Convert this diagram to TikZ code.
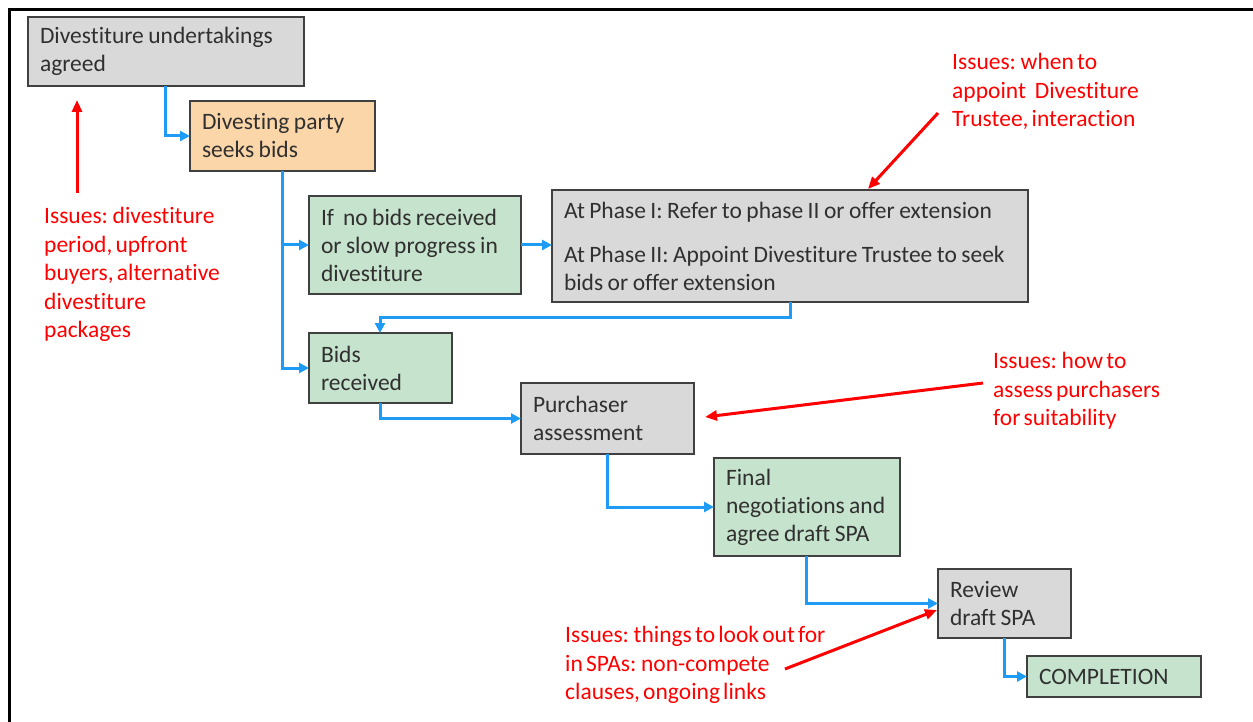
\documentclass[tikz,border=0pt]{standalone}
\usepackage{fontspec}
\setmainfont{Carlito}[Ligatures=NoCommon]
\usetikzlibrary{arrows.meta,calc}
\definecolor{boxgrey}{HTML}{D9D9D9}
\definecolor{boxpeach}{HTML}{FBD6A8}
\definecolor{boxgreen}{HTML}{C6E3CD}
\definecolor{flowblue}{HTML}{1E9BF5}
\definecolor{txt}{HTML}{303030}
\definecolor{edgegrey}{HTML}{404040}
\definecolor{issuered}{HTML}{FF0000}
\newcommand{\tightspace}{\spaceskip=0.135em plus 0.03em\xspaceskip=0.2em\relax}
\newcommand{\boxline}[1]{\mbox{\spaceskip=0.19em\xspaceskip=0.25em\relax #1}}
\tikzset{
  stage/.style={draw=edgegrey, line width=1.5pt, text=txt, anchor=north west, align=left,
    inner xsep=12pt, inner ysep=0pt, outer sep=0pt, font=\fontsize{23.5}{28}\selectfont},
  flow/.style={draw=flowblue, line width=3pt, -{Triangle[length=10pt,width=10pt]}},
  issue/.style={draw=issuered, line width=3pt, -{Triangle[length=12pt,width=10pt]}},
  note/.style={text=issuered, anchor=north west, align=left, inner sep=0pt,
    font=\fontsize{23.5}{28.5}\selectfont\tightspace},
}
\begin{document}
\begin{tikzpicture}[x=1pt,y=-1pt]
\useasboundingbox (0,0) rectangle (1253,722);
\draw[line width=3pt, black] (9,722) -- (9,10) -- (1253,10);

% boxes
\node[stage, fill=boxgrey, minimum width=276pt, minimum height=69pt, text width=252pt] (b1) at (28,17) {\boxline{Divestiture undertakings}\\\boxline{agreed}};
\node[stage, fill=boxpeach, minimum width=185pt, minimum height=70pt, text width=161pt] (b2) at (190,101) {\boxline{Divesting party}\\\boxline{seeks bids}};
\node[stage, fill=boxgreen, minimum width=212pt, minimum height=98pt, text width=188pt] (b3) at (309,196) {\boxline{If\ \ no bids received}\\\boxline{or slow progress in}\\\boxline{divestiture}};
\node[stage, fill=boxgrey, minimum width=476pt, minimum height=112pt, text width=452pt] (b4) at (552,190) {\boxline{At Phase I: Refer to phase II or offer extension}\\[16pt]\boxline{At Phase II: Appoint Divestiture Trustee to seek}\\\boxline{bids or offer extension}};
\node[stage, fill=boxgreen, minimum width=143pt, minimum height=70pt, text width=119pt] (b5) at (309,333) {\boxline{Bids}\\\boxline{received}};
\node[stage, fill=boxgrey, minimum width=173pt, minimum height=71pt, text width=149pt] (b6) at (521,383) {\boxline{Purchaser}\\\boxline{assessment}};
\node[stage, fill=boxgreen, minimum width=186pt, minimum height=98pt, text width=162pt] (b7) at (714,458) {\boxline{Final}\\\boxline{negotiations and}\\\boxline{agree draft SPA}};
\node[stage, fill=boxgrey, minimum width=133pt, minimum height=69pt, text width=109pt] (b8) at (938,569) {\boxline{Review}\\\boxline{draft SPA}};
\node[stage, fill=boxgreen, minimum width=174pt, minimum height=41pt, text width=150pt] (b9) at (1027,656) {\boxline{COMPLETION}};

% flow connectors
\draw[flow] ([xshift=137pt]b1.south west) |- (b2.west);
\draw[flow] ([xshift=92pt]b2.south west) |- (b3.west);
\draw[flow] ([xshift=92pt]b2.south west) |- (b5.west);
\draw[flow] (b3.east) -- (b3.east -| b4.west);
\draw[flow] ([xshift=238pt]b4.south west) -- ++(0,15) -| ([xshift=71pt]b5.north west);
\draw[flow] ([xshift=71pt]b5.south west) |- (b6.west);
\draw[flow] ([xshift=86pt]b6.south west) |- (b7.west);
\draw[flow] ([xshift=92pt]b7.south west) |- (b8.west);
\draw[flow] ([xshift=66pt]b8.south west) |- (b9.west);

% issue notes
\node[note] (n1) at (44,207) {Issues: divestiture\\period, upfront\\buyers, alternative\\divestiture\\packages};
\node[note] (n2) at (952,53) {Issues: when to\\appoint\hspace{9pt}Divestiture\\Trustee, interaction};
\node[note] (n3) at (993,352) {Issues: how to\\assess purchasers\\for suitability};
\node[note] (n4) at (565,626) {Issues: things to look out for\\in SPAs: non-compete\\clauses, ongoing links};

% issue arrows
\coordinate (r1a) at (77,193);
\coordinate (r1b) at (77,100);
\coordinate (r2a) at (938,113);
\coordinate (r2b) at (868,189);
\coordinate (r3a) at (983,383);
\coordinate (r3b) at (705,417);
\coordinate (r4a) at (785,669);
\coordinate (r4b) at (937,610);
\draw[issue] (r1a) -- (r1b);
\draw[issue] (r2a) -- (r2b);
\draw[issue] (r3a) -- (r3b);
\draw[issue] (r4a) -- (r4b);
\end{tikzpicture}
\end{document}
